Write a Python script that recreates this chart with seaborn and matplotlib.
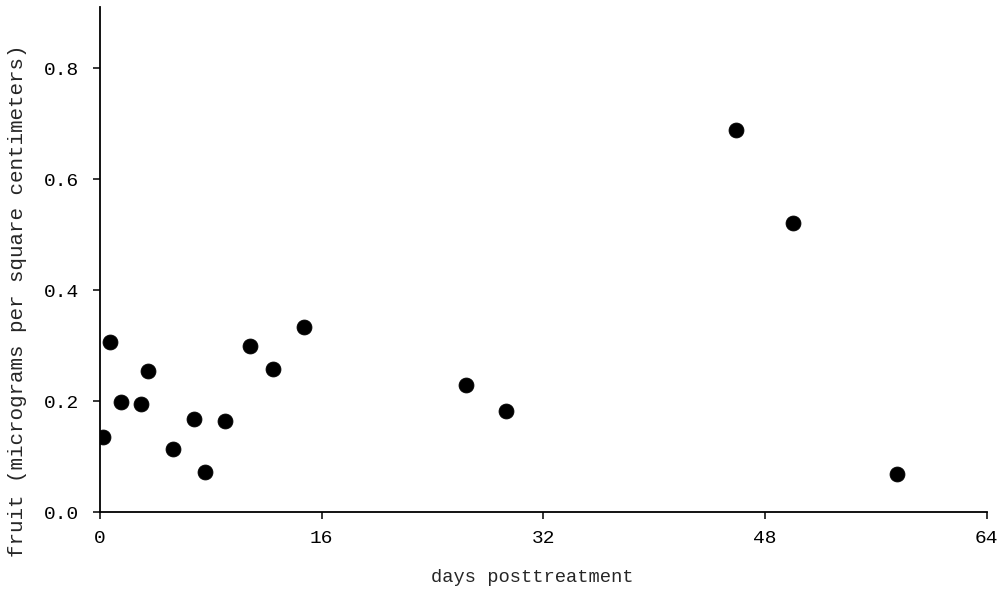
import matplotlib
matplotlib.use("Agg")
import matplotlib.pyplot as plt
import seaborn as sns
import pandas as pd

# Residue on fruit surface over time after treatment
days = [0.2, 0.7, 1.5, 2.95, 3.5, 5.3, 6.8, 7.55, 9.0, 10.8, 12.5, 14.7,
        26.45, 29.3, 45.9, 50.0, 57.55]
residue = [0.136, 0.306, 0.198, 0.195, 0.255, 0.113, 0.168, 0.072, 0.164,
           0.300, 0.257, 0.334, 0.229, 0.183, 0.688, 0.521, 0.068]

x_ticks = [0, 16, 32, 48, 64]
y_ticks = [0.0, 0.2, 0.4, 0.6, 0.8]
y_tick_labels = ["0.0", "0.2", "0.4", "0.6", "0.8"]

df = pd.DataFrame({"days": days, "residue": residue})

sns.set_style("ticks")
plt.rcParams["font.family"] = ["Liberation Mono", "DejaVu Sans Mono"]

fig = plt.figure(figsize=(10.02, 5.90), dpi=100)
ax = fig.add_axes([0.0998, 0.132, 0.885, 0.856])

sns.scatterplot(data=df, x="days", y="residue", ax=ax, s=115,
                color="black", edgecolor="black", linewidth=0.6, zorder=3)

ax.set_xlim(0, 64)
ax.set_ylim(0, 0.91)
ax.set_xticks(x_ticks)
ax.set_xticklabels([str(t) for t in x_ticks])
ax.set_yticks(y_ticks)
ax.set_yticklabels(y_tick_labels)

sns.despine(ax=ax)
for side in ("left", "bottom"):
    ax.spines[side].set_linewidth(1.3)
    ax.spines[side].set_color("black")

ax.tick_params(axis="both", direction="out", length=5, width=1.1,
               colors="black", labelsize=14, pad=8)
ax.tick_params(axis="y", pad=10)

ax.set_xlabel("days posttreatment", fontsize=13.5)
ax.xaxis.set_label_coords(0.488, -0.112)
ax.set_ylabel("fruit (micrograms per square centimeters)", fontsize=15)
ax.yaxis.set_label_coords(-0.082, 0.418)

fig.savefig("out.png", dpi=100, facecolor="white")
